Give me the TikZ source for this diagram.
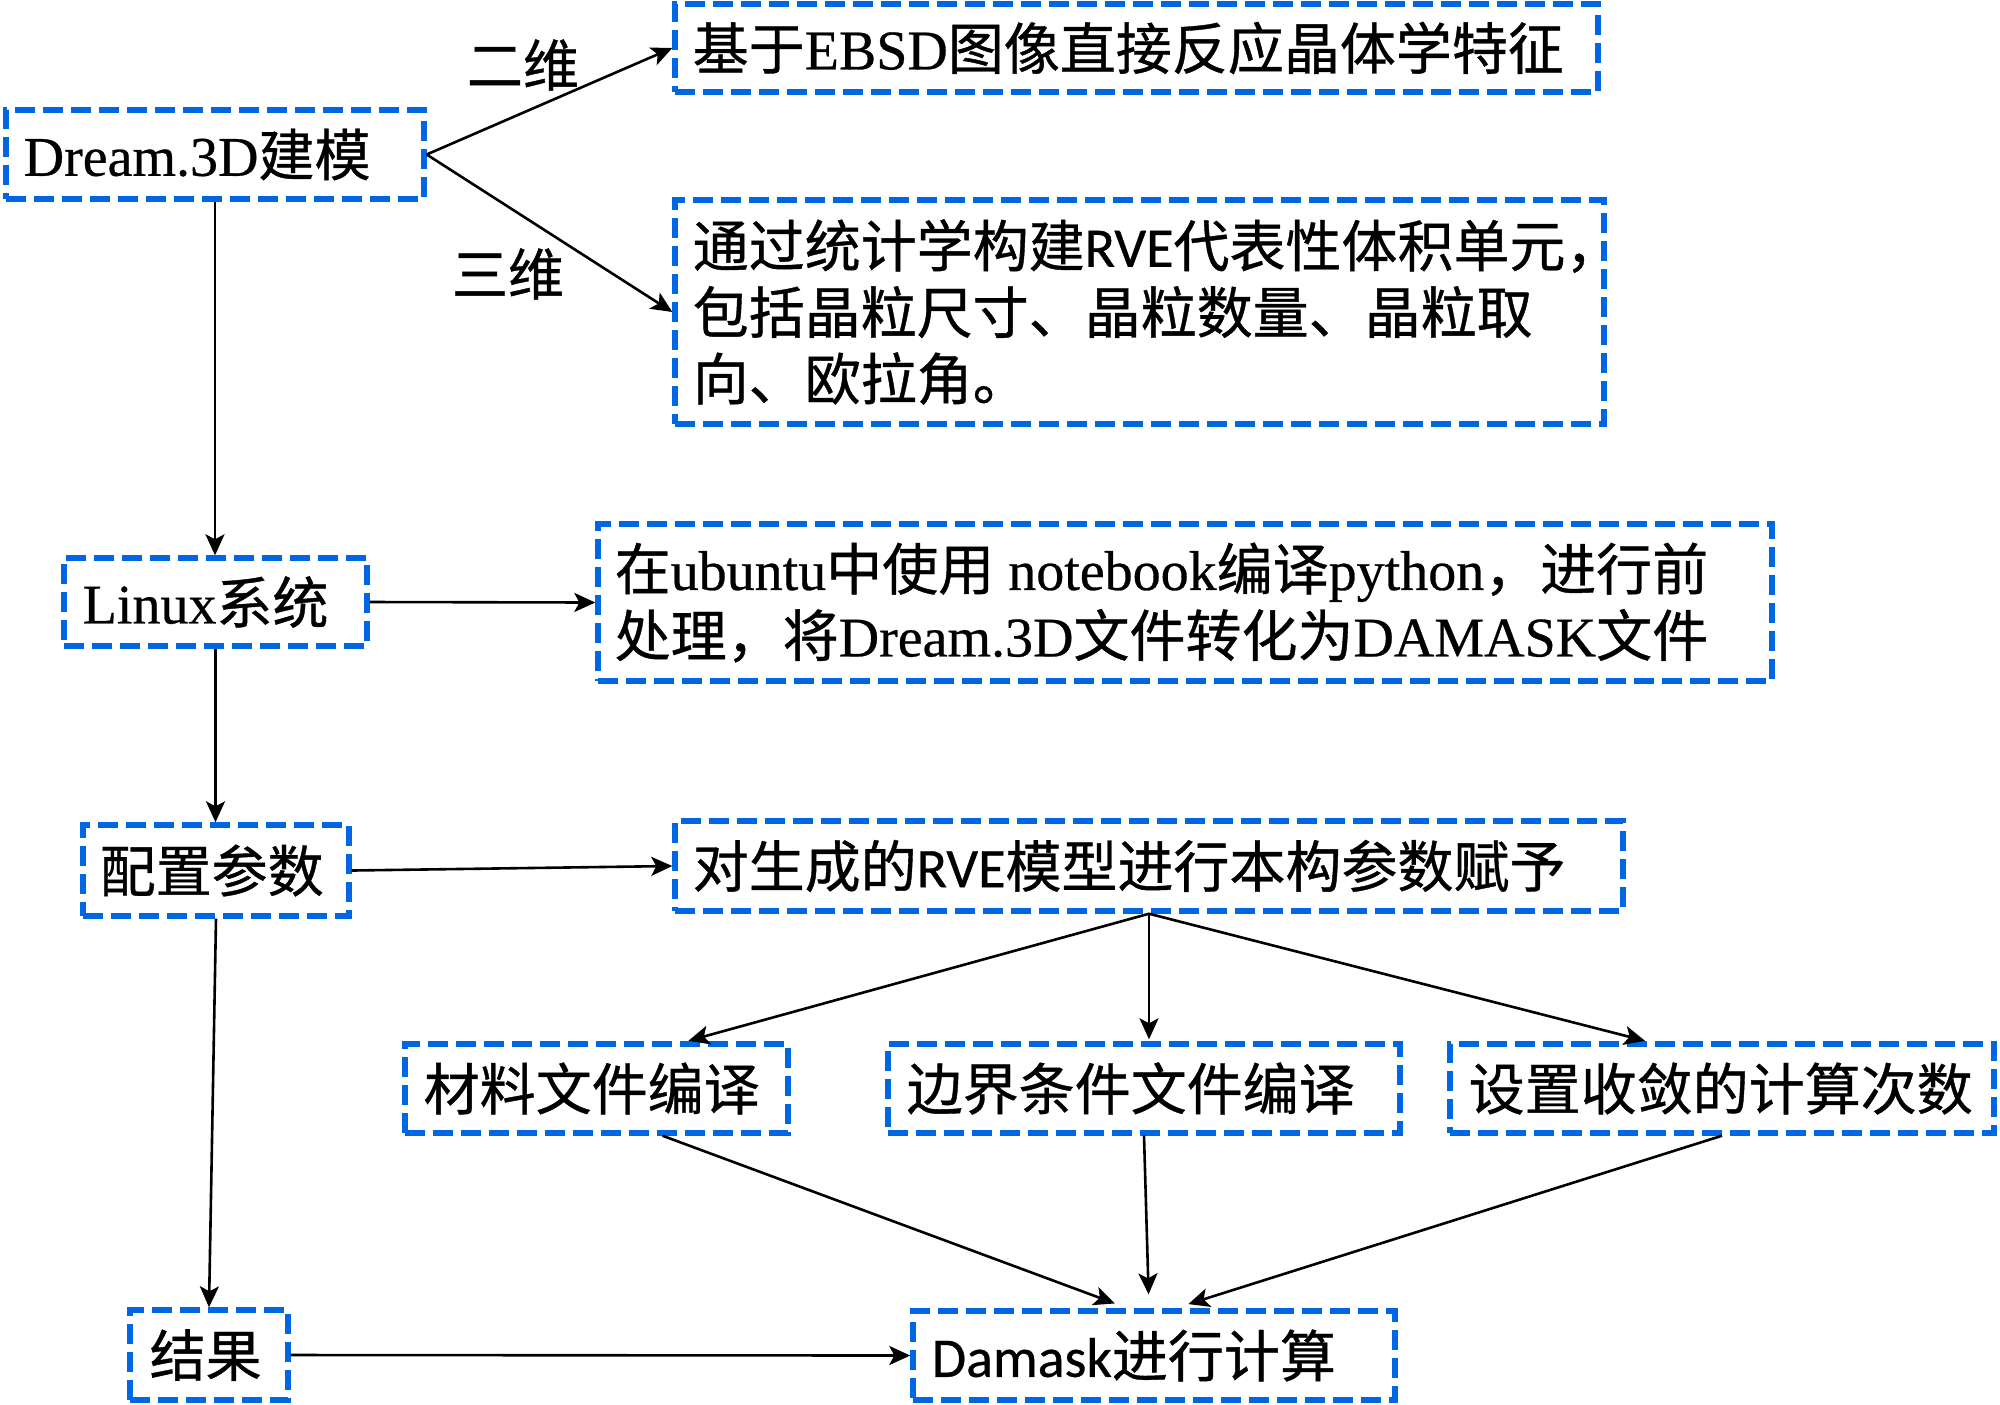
\documentclass[tikz,border=0pt]{standalone}
\usepackage{fontspec}
\setmainfont{Liberation Serif}[FakeBold=0.5]
\newfontfamily\cjkf{Noto Sans CJK SC}[FakeBold=0.7]
\newfontfamily\calf{Carlito}[FakeBold=0.6]
\usetikzlibrary{arrows.meta}
\definecolor{boxblue}{RGB}{0,102,225}
\newcommand{\zh}[1]{{\cjkf #1}}
\newcommand{\sn}[1]{{\calf #1}}
\begin{document}
\begin{tikzpicture}[x=0.5pt,y=-0.5pt,
  box/.style={draw=boxblue, line width=2.7pt, dash pattern=on 10pt off 4pt, inner sep=0pt},
  txt/.style={inner sep=0pt, anchor=west, align=left, font=\fontsize{28}{33.25}\selectfont},
  arr/.style={-{Stealth[length=10.5pt,width=9.5pt,inset=2.5pt]}, line width=1.3pt},
  lbl/.style={inner sep=0pt, font=\fontsize{28}{33}\selectfont\cjkf}]
\useasboundingbox (0,0) rectangle (2000,1404);

% boxes
\node[box, minimum width=209pt, minimum height=44.5pt] (dream) at (215,154.5) {};
\node[box, minimum width=461.5pt, minimum height=44pt] (ebsd) at (1136.5,48) {};
\node[box, minimum width=464.5pt, minimum height=112pt] (rve) at (1139.5,312) {};
\node[box, minimum width=151.5pt, minimum height=44pt] (linux) at (215.5,602) {};
\node[box, minimum width=587pt, minimum height=78.5pt] (ubuntu) at (1185,602.5) {};
\node[box, minimum width=133pt, minimum height=45.5pt] (config) at (216,870.5) {};
\node[box, minimum width=474pt, minimum height=45pt] (assign) at (1149,866) {};
\node[box, minimum width=191.5pt, minimum height=44.5pt] (mat) at (596.5,1088.5) {};
\node[box, minimum width=256pt, minimum height=44.5pt] (bnd) at (1144,1088.5) {};
\node[box, minimum width=272pt, minimum height=44.5pt] (conv) at (1722,1088.5) {};
\node[box, minimum width=241pt, minimum height=44.5pt] (damask) at (1154,1355.5) {};
\node[box, minimum width=79pt, minimum height=45pt] (result) at (209,1355) {};

% texts
\node[txt] (dreamt) at ([xshift=10pt]dream.west) {Dream.3D\zh{建模}};
\node[txt] (ebsdt) at ([xshift=10pt]ebsd.west) {\zh{基于}EBSD\zh{图像直接反应晶体学特征}};
\node[txt] (rvet) at ([xshift=10pt]rve.west) {\zh{通过统计学构建}\sn{RVE}\zh{代表性体积单元，}\\\zh{包括晶粒尺寸、晶粒数量、晶粒取}\\\zh{向、欧拉角。}};
\node[txt] (linuxt) at ([xshift=10.5pt]linux.west) {Linux\zh{系统}};
\node[txt] (ubuntut) at ([xshift=9.5pt]ubuntu.west) {\zh{在}ubuntu\zh{中使用} notebook\zh{编译}python\zh{，进行前}\\\zh{处理，将}Dream.3D\zh{文件转化为}DAMASK\zh{文件}};
\node[txt] (configt) at ([xshift=9.5pt]config.west) {\zh{配置参数}};
\node[txt] (assignt) at ([xshift=10pt]assign.west) {\zh{对生成的}\sn{RVE}\zh{模型进行本构参数赋予}};
\node[txt] (matt) at ([xshift=10.5pt]mat.west) {\zh{材料文件编译}};
\node[txt] (bndt) at ([xshift=10.5pt]bnd.west) {\zh{边界条件文件编译}};
\node[txt] (convt) at ([xshift=10.5pt]conv.west) {\zh{设置收敛的计算次数}};
\node[txt] (damaskt) at ([xshift=10.5pt]damask.west) {\sn{Damask}\zh{进行计算}};
\node[txt] (resultt) at ([xshift=11pt]result.west) {\zh{结果}};

% labels
\node[lbl] (l2d) at (523,65) {二维};
\node[lbl] (l3d) at (508,274) {三维};

% connectors
\draw[arr] (dream.east) -- (ebsd.west);
\draw[arr] (dream.east) -- (rve.west);
\draw[arr] (dream.south) -- (dream.south |- linux.north);
\draw[arr] (linux.east) -- (ubuntu.west);
\draw[arr] (linux.south) -- (linux.south |- config.north);
\draw[arr] (config.east) -- (assign.west);
\draw[arr] (config.south) -- (result.north);
\draw[arr] (result.east) -- (damask.west);
\draw[arr, shorten >=1pt] (assign.south) -- ([xshift=45pt]mat.north);
\draw[arr, shorten >=1pt] (assign.south) -- (assign.south |- bnd.north);
\draw[arr, shorten >=1pt] (assign.south) -- ([xshift=-37.5pt]conv.north);
\draw[arr, shorten >=7pt] ([xshift=33pt]mat.south) -- ([xshift=-13pt]damask.north);
\draw[arr, shorten >=7pt] (bnd.south) -- ([xshift=-2.5pt]damask.north);
\draw[arr, shorten >=7pt] (conv.south) -- ([xshift=10.5pt]damask.north);
\end{tikzpicture}
\end{document}
